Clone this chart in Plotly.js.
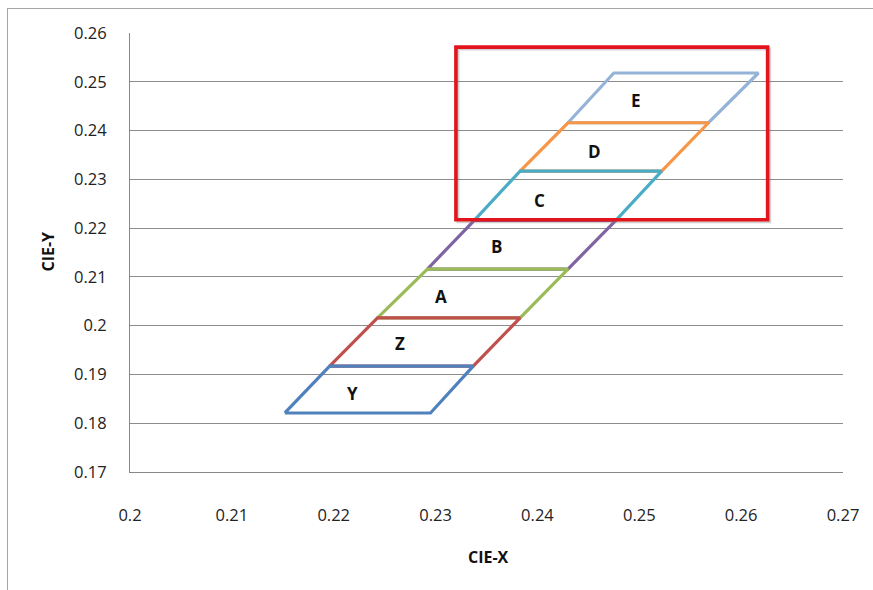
<!DOCTYPE html>
<html>
<head>
<meta charset="utf-8">
<script src="https://cdn.plot.ly/plotly-3.0.1.min.js"></script>
<style>
html,body{margin:0;padding:0;background:#fff;overflow:hidden;}
#wrap{position:relative;width:873px;height:590px;}
#chart{position:absolute;left:0;top:0;width:873px;height:590px;}
#frame{position:absolute;left:7px;top:8px;width:900px;height:700px;border:1.5px solid #a6a6a6;pointer-events:none;}
</style>
</head>
<body>
<div id="wrap"><div id="chart"></div><div id="frame"></div></div>
<script>
// Region names (drawn bottom to top)
const names  = ["Y", "Z", "A", "B", "C", "D", "E"];
const colors = ["#4F81BD", "#C0504D", "#9BBB59", "#8064A2", "#4BACC6", "#F79646", "#95B3D7"];
// Corner values: bottom-left, bottom-right, top-right, top-left
const xBL = [0.2152, 0.2196, 0.2243, 0.2292, 0.2338, 0.2383, 0.2430];
const xBR = [0.2295, 0.2337, 0.2383, 0.2430, 0.2477, 0.2522, 0.2568];
const xTR = [0.2337, 0.2383, 0.2430, 0.2477, 0.2522, 0.2568, 0.2617];
const xTL = [0.2196, 0.2243, 0.2292, 0.2338, 0.2383, 0.2430, 0.2475];
const yBot = [0.1821, 0.1917, 0.2016, 0.2116, 0.2216, 0.2317, 0.2416];
const yTop = [0.1917, 0.2016, 0.2116, 0.2216, 0.2317, 0.2416, 0.2518];
// Label positions
const labX = [0.2218, 0.2265, 0.2305, 0.2360, 0.2402, 0.2456, 0.2497];
const labY = [0.1860, 0.1964, 0.2059, 0.2163, 0.2256, 0.2358, 0.2461];
// Highlight box (data coords)
const boxX = [0.2320, 0.2626];
const boxY = [0.2217, 0.2571];
// Tick values
const xTicks = [0.2, 0.21, 0.22, 0.23, 0.24, 0.25, 0.26, 0.27];
const yTicks = [0.17, 0.18, 0.19, 0.2, 0.21, 0.22, 0.23, 0.24, 0.25, 0.26];

const traces = [];
for (let i = names.length - 1; i >= 0; i--) {
  traces.push({
    type: "scatter", mode: "lines", name: names[i],
    x: [xBL[i], xBR[i], xTR[i], xTL[i], xBL[i]],
    y: [yBot[i], yBot[i], yTop[i], yTop[i], yBot[i]],
    line: {color: colors[i], width: 3.2},
    hoverinfo: "skip"
  });
}

const annotations = names.map((n, i) => ({
  x: labX[i], y: labY[i], xref: "x", yref: "y", text: "<b>" + n + "</b>",
  showarrow: false, xanchor: "center", yanchor: "middle",
  font: {family: "Open Sans, sans-serif", size: 17, color: "#111"}
}));
const L = 130, R = 843, T = 33, B = 472;
const px = (x) => (x - L) / (R - L);
const py = (y) => (B - y) / (B - T);
annotations.push({
  x: px(488), y: py(557), xref: "paper", yref: "paper", text: "<b>CIE-X</b>", showarrow: false,
  xanchor: "center", yanchor: "middle",
  font: {family: "Open Sans, sans-serif", size: 16, color: "#111"}
});
annotations.push({
  x: px(47.5), y: py(252), xref: "paper", yref: "paper", text: "<b>CIE-Y</b>", showarrow: false, textangle: -90,
  xanchor: "center", yanchor: "middle",
  font: {family: "Open Sans, sans-serif", size: 16, color: "#111"}
});

const layout = {
  width: 873, height: 590,
  margin: {l: L, r: 873 - R, t: T, b: 590 - B, pad: 0},
  paper_bgcolor: "#fff", plot_bgcolor: "#fff",
  showlegend: false,
  font: {family: "Open Sans, sans-serif", size: 16, color: "#222"},
  xaxis: {
    range: [0.2, 0.27], tickvals: xTicks, ticktext: xTicks.map(String),
    showgrid: false, zeroline: false, showline: true, linecolor: "#888", linewidth: 1,
    ticks: "outside", ticklen: 28, tickcolor: "rgba(0,0,0,0)",
    tickfont: {size: 16.5, color: "#222"}
  },
  yaxis: {
    range: [0.17, 0.26], tickvals: yTicks, ticktext: yTicks.map(String),
    showgrid: true, gridcolor: "#8c8c8c", gridwidth: 1, zeroline: false,
    showline: true, linecolor: "#888", linewidth: 1,
    ticks: "outside", ticklen: 19, tickcolor: "rgba(0,0,0,0)",
    tickfont: {size: 16.5, color: "#222"}
  },
  shapes: [
    {type: "rect", xref: "x", yref: "y", x0: boxX[0] + 0.0002, x1: boxX[1] + 0.0002,
     y0: boxY[0] - 0.0004, y1: boxY[1] - 0.0004,
     line: {color: "rgba(120,120,120,0.35)", width: 3}, layer: "above"},
    {type: "rect", xref: "x", yref: "y", x0: boxX[0], x1: boxX[1], y0: boxY[0], y1: boxY[1],
     line: {color: "#E3141C", width: 3.6}, layer: "above"}
  ],
  annotations: annotations
};

Plotly.newPlot("chart", traces, layout, {staticPlot: true, displayModeBar: false});
</script>
</body>
</html>
